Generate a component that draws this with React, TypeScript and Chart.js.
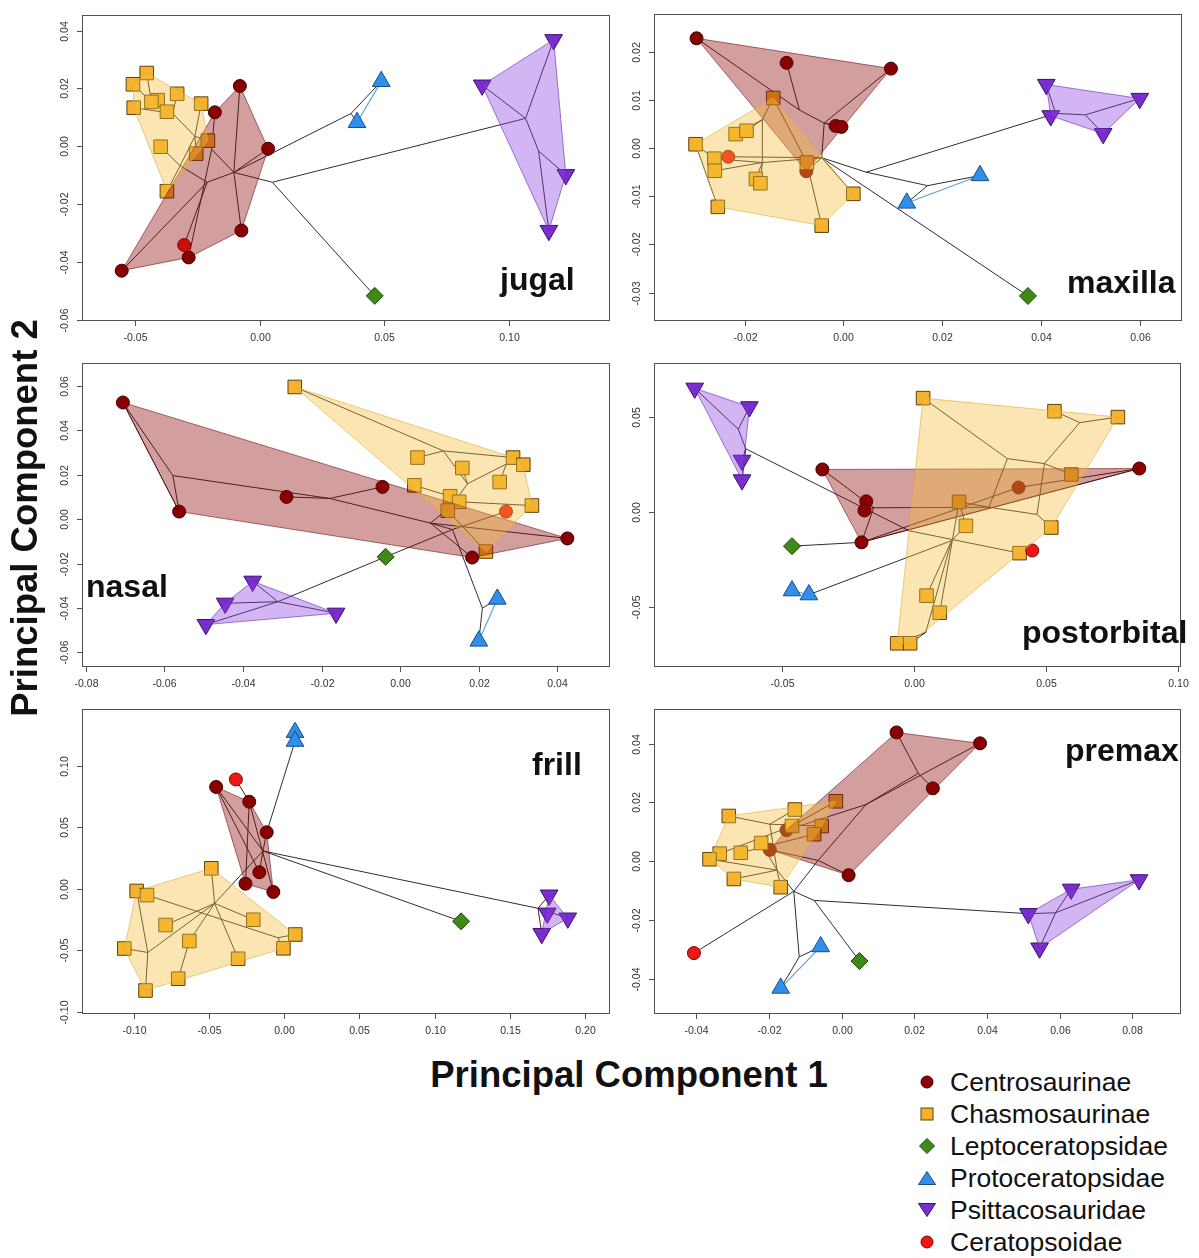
import React, { useEffect, useRef } from "react";
import { Chart, registerables } from "chart.js";

Chart.register(...registerables);

type Pt = [number, number];
type Edge = [number, number, number, number];

// ---------------- legend / groups ----------------
const groupNames = [
  "Centrosaurinae",
  "Chasmosaurinae",
  "Leptoceratopsidae",
  "Protoceratopsidae",
  "Psittacosauridae",
  "Ceratopsoidae",
];

// ---------------- jugal ----------------
const jugalXRange = [-0.0711, 0.1402];
const jugalYRange = [-0.0605, 0.0453];
const jugalXTicks = [-0.05, 0, 0.05, 0.1];
const jugalYTicks = [-0.06, -0.04, -0.02, 0, 0.02, 0.04];
const jugalCentro: Pt[] = [[-0.0079, 0.0208], [-0.0179, 0.0117], [0.0034, -0.0009], [-0.0073, -0.0292], [-0.0284, -0.0385], [-0.0552, -0.0431]];
const jugalChasmo: Pt[] = [[-0.0452, 0.0253], [-0.0507, 0.0214], [-0.0504, 0.0133], [-0.0408, 0.0159], [-0.0433, 0.0153], [-0.033, 0.0181], [-0.0371, 0.0119], [-0.0234, 0.0147], [-0.0396, -0.0002], [-0.0254, -0.0026], [-0.0207, 0.0019], [-0.0371, -0.0156]];
const jugalLepto: Pt[] = [[0.0461, -0.0518]];
const jugalProto: Pt[] = [[0.0487, 0.0224], [0.039, 0.0082]];
const jugalPsitt: Pt[] = [[0.1177, 0.0368], [0.0891, 0.0211], [0.1226, -0.0099], [0.1158, -0.0292]];
const jugalCerat: Pt[] = [[-0.0302, -0.0342]];
const jugalEdges: Edge[] = [
  [0.0051, -0.0125, 0.1065, 0.0096], [0.1065, 0.0096, 0.0891, 0.0211], [0.1065, 0.0096, 0.1177, 0.0368],
  [0.1065, 0.0096, 0.1117, -0.0017], [0.1117, -0.0017, 0.1226, -0.0099], [0.1117, -0.0017, 0.1158, -0.0292],
  [0.0051, -0.0125, 0.0461, -0.0518], [-0.0103, -0.0091, 0.0051, -0.0125], [-0.0103, -0.0091, 0.0366, 0.0113],
  [0.0366, 0.0113, 0.0487, 0.0224], [0.0366, 0.0113, 0.039, 0.0082], [-0.0103, -0.0091, 0.0034, -0.0009],
  [-0.0103, -0.0091, -0.0073, -0.0292], [-0.0103, -0.0091, -0.0079, 0.0208], [-0.0103, -0.0091, -0.021, -0.0125],
  [-0.021, -0.0125, -0.0552, -0.0431], [-0.021, -0.0125, -0.0302, -0.0342], [-0.0103, -0.0091, -0.0192, -0.0011],
  [-0.0192, -0.0011, -0.0179, 0.0117], [-0.0192, -0.0011, -0.0284, -0.0385], [-0.021, -0.0125, -0.0318, -0.0068],
  [-0.0318, -0.0068, -0.0371, -0.0156], [-0.0318, -0.0068, -0.0396, -0.0002], [-0.0318, -0.0068, -0.0259, 0.0034],
  [-0.0259, 0.0034, -0.0207, 0.0019], [-0.0259, 0.0034, -0.0254, -0.0026], [-0.0259, 0.0034, -0.0234, 0.0147],
  [-0.0259, 0.0034, -0.0348, 0.0113], [-0.0348, 0.0113, -0.0371, 0.0119], [-0.0348, 0.0113, -0.033, 0.0181],
  [-0.0348, 0.0113, -0.0408, 0.0159], [-0.0348, 0.0113, -0.0433, 0.0153], [-0.0433, 0.0153, -0.0452, 0.0253],
  [-0.0433, 0.0153, -0.0507, 0.0214], [-0.0348, 0.0113, -0.0504, 0.0133],
];

// ---------------- maxilla ----------------
const maxXRange = [-0.0383, 0.0684];
const maxYRange = [-0.0359, 0.0278];
const maxXTicks = [-0.02, 0, 0.02, 0.04, 0.06];
const maxYTicks = [-0.03, -0.02, -0.01, 0, 0.01, 0.02];
const maxCentro: Pt[] = [[-0.0297, 0.0228], [-0.0115, 0.0177], [0.0096, 0.0165], [-0.0016, 0.0046], [-0.0004, 0.0044], [-0.0075, -0.0048]];
const maxChasmo: Pt[] = [[-0.0142, 0.0104], [-0.0299, 0.0008], [-0.0218, 0.0029], [-0.0196, 0.0036], [-0.0261, -0.0022], [-0.026, -0.0047], [-0.0177, -0.0064], [-0.0168, -0.0073], [-0.0254, -0.0122], [-0.0074, -0.003], [0.002, -0.0095], [-0.0044, -0.0161]];
const maxLepto: Pt[] = [[0.0373, -0.0307]];
const maxProto: Pt[] = [[0.0276, -0.0057], [0.0128, -0.0114]];
const maxPsitt: Pt[] = [[0.041, 0.0132], [0.0599, 0.0103], [0.0419, 0.0067], [0.0525, 0.003]];
const maxCerat: Pt[] = [[-0.0233, -0.0018]];
const maxEdges: Edge[] = [
  [-0.0044, -0.002, 0.0046, -0.005], [0.0046, -0.005, 0.0429, 0.0072], [0.0429, 0.0072, 0.041, 0.0132],
  [0.0429, 0.0072, 0.0419, 0.0067], [0.0429, 0.0072, 0.0489, 0.0069], [0.0489, 0.0069, 0.0599, 0.0103],
  [0.0489, 0.0069, 0.0525, 0.003], [0.0046, -0.005, 0.017, -0.0078], [0.017, -0.0078, 0.0276, -0.0057],
  [0.017, -0.0078, 0.0128, -0.0114], [-0.0044, -0.002, 0.0373, -0.0307], [-0.0044, -0.002, -0.0039, 0.0052],
  [-0.0039, 0.0052, -0.0016, 0.0046], [-0.0039, 0.0052, -0.0004, 0.0044], [-0.0039, 0.0052, 0.0096, 0.0165],
  [-0.0039, 0.0052, -0.0089, 0.0079], [-0.0089, 0.0079, -0.0297, 0.0228], [-0.0089, 0.0079, -0.0115, 0.0177],
  [-0.0044, -0.002, -0.0075, -0.0048], [-0.0044, -0.002, -0.0233, -0.0018], [-0.0044, -0.002, -0.0164, -0.003],
  [-0.0164, -0.003, -0.0261, -0.0022], [-0.0164, -0.003, -0.026, -0.0047], [-0.0164, -0.003, -0.0177, -0.0064],
  [-0.0164, -0.003, -0.0168, -0.0073], [-0.0164, -0.003, -0.0164, 0.0059], [-0.0164, 0.0059, -0.0218, 0.0029],
  [-0.0164, 0.0059, -0.0196, 0.0036], [-0.0164, 0.0059, -0.0142, 0.0104], [-0.0142, 0.0104, -0.0074, -0.003],
  [-0.0074, -0.003, -0.0044, -0.0161], [-0.0299, 0.0008, -0.0261, -0.0022], [-0.0299, 0.0008, -0.0254, -0.0122],
  [-0.0044, -0.002, 0.002, -0.0095],
];

// ---------------- nasal ----------------
const nasXRange = [-0.0809, 0.0533];
const nasYRange = [-0.0666, 0.0702];
const nasXTicks = [-0.08, -0.06, -0.04, -0.02, 0, 0.02, 0.04];
const nasYTicks = [-0.06, -0.04, -0.02, 0, 0.02, 0.04, 0.06];
const nasCentro: Pt[] = [[-0.0705, 0.0525], [-0.0562, 0.0034], [-0.0289, 0.01], [-0.0045, 0.0145], [0.0183, -0.0173], [0.0425, -0.0087]];
const nasChasmo: Pt[] = [[-0.0268, 0.0595], [0.0044, 0.0277], [0.0287, 0.0277], [0.0313, 0.0245], [0.0158, 0.023], [0.0036, 0.0152], [0.0253, 0.0167], [0.0127, 0.0103], [0.015, 0.0078], [0.0335, 0.0061], [0.0121, 0.0038], [0.0218, -0.0146]];
const nasLepto: Pt[] = [[-0.0037, -0.017]];
const nasProto: Pt[] = [[0.0247, -0.036], [0.02, -0.0549]];
const nasPsitt: Pt[] = [[-0.0375, -0.028], [-0.0445, -0.0379], [-0.0163, -0.0424], [-0.0494, -0.0475]];
const nasCerat: Pt[] = [[0.0269, 0.0034]];
const nasEdges: Edge[] = [
  [-0.0705, 0.0525, -0.0578, 0.0196], [-0.0705, 0.0525, -0.0562, 0.0034], [-0.0578, 0.0196, -0.0562, 0.0034],
  [-0.0578, 0.0196, -0.0179, 0.0093], [-0.0179, 0.0093, -0.0289, 0.01], [-0.0179, 0.0093, -0.0045, 0.0145],
  [-0.0179, 0.0093, 0.0077, -0.0018], [0.0077, -0.0018, 0.0425, -0.0087], [0.0077, -0.0018, 0.0183, -0.0173],
  [0.0077, -0.0018, 0.0133, 0.0063], [0.0133, 0.0063, 0.0127, 0.0103], [0.0133, 0.0063, 0.0121, 0.0038],
  [0.0133, 0.0063, 0.015, 0.0078], [0.015, 0.0078, 0.0335, 0.0061], [0.0133, 0.0063, 0.0171, 0.0159],
  [0.0171, 0.0159, 0.0158, 0.023], [0.0171, 0.0159, 0.011, 0.0307], [0.011, 0.0307, -0.0268, 0.0595],
  [0.011, 0.0307, 0.0044, 0.0277], [0.011, 0.0307, 0.0287, 0.0277], [0.0171, 0.0159, 0.027, 0.0248],
  [0.027, 0.0248, 0.0313, 0.0245], [0.027, 0.0248, 0.0253, 0.0167], [0.0036, 0.0152, 0.0127, 0.0103],
  [0.0121, 0.0038, 0.0218, -0.0146], [0.0077, -0.0018, 0.0133, -0.0047], [-0.0037, -0.017, 0.0133, -0.0047],
  [0.0133, -0.0047, 0.0269, 0.0034], [0.0133, -0.0047, 0.0209, -0.0401], [0.0209, -0.0401, 0.0247, -0.036],
  [0.0209, -0.0401, 0.02, -0.0549], [-0.0311, -0.0372, -0.0037, -0.017], [-0.0311, -0.0372, -0.0375, -0.028],
  [-0.0311, -0.0372, -0.0445, -0.0379], [-0.0311, -0.0372, -0.0494, -0.0475], [-0.0311, -0.0372, -0.0163, -0.0424],
];

// ---------------- postorbital ----------------
const poXRange = [-0.0983, 0.101];
const poYRange = [-0.0818, 0.0783];
const poXTicks = [-0.05, 0, 0.05, 0.1];
const poYTicks = [-0.05, 0, 0.05];
const poCentro: Pt[] = [[-0.0346, 0.0223], [-0.018, 0.0055], [-0.0187, 0.0007], [-0.0198, -0.0161], [0.0853, 0.0228], [0.0396, 0.0128]];
const poChasmo: Pt[] = [[0.0035, 0.0599], [0.0532, 0.053], [0.0772, 0.0499], [0.0596, 0.0197], [0.0171, 0.0052], [0.0197, -0.0074], [0.052, -0.0083], [0.04, -0.0218], [0.0048, -0.0442], [0.0098, -0.0532], [-0.0063, -0.0693], [-0.0014, -0.0693]];
const poLepto: Pt[] = [[-0.0461, -0.0181]];
const poProto: Pt[] = [[-0.0461, -0.0416], [-0.0397, -0.0437]];
const poPsitt: Pt[] = [[-0.0829, 0.0651], [-0.0622, 0.0553], [-0.065, 0.0271], [-0.065, 0.0168]];
const poCerat: Pt[] = [[0.0448, -0.0204]];
const poEdges: Edge[] = [
  [-0.0829, 0.0651, -0.0664, 0.0435], [-0.0664, 0.0435, -0.0622, 0.0553], [-0.0664, 0.0435, -0.0636, 0.0332],
  [-0.0636, 0.0332, -0.065, 0.0271], [-0.0636, 0.0332, -0.065, 0.0168], [-0.0636, 0.0332, -0.0018, -0.01],
  [-0.0018, -0.01, 0.04, -0.0218], [-0.0346, 0.0223, -0.0152, 0.0021], [-0.0152, 0.0021, -0.018, 0.0055],
  [-0.0152, 0.0021, -0.0187, 0.0007], [-0.0152, 0.0021, -0.0198, -0.0161], [-0.0152, 0.0021, 0.0284, 0.0024],
  [-0.0461, -0.0181, -0.0198, -0.0161], [-0.0198, -0.0161, 0.0853, 0.0228], [-0.0198, -0.0161, 0.0396, 0.0128],
  [0.0396, 0.0128, 0.0853, 0.0228], [-0.0397, -0.0437, 0.0143, -0.0152], [0.0035, 0.0599, 0.0354, 0.028],
  [0.0354, 0.028, 0.0494, 0.0254], [0.0494, 0.0254, 0.0628, 0.047], [0.0628, 0.047, 0.0532, 0.053],
  [0.0628, 0.047, 0.0772, 0.0499], [0.0494, 0.0254, 0.0596, 0.0197], [0.0354, 0.028, 0.0284, 0.0024],
  [0.0284, 0.0024, 0.0171, 0.0052], [0.0284, 0.0024, 0.0466, -0.0014], [0.0466, -0.0014, 0.052, -0.0083],
  [0.0466, -0.0014, 0.0494, 0.0254], [0.0171, 0.0052, 0.0197, -0.0074], [0.0197, -0.0074, 0.0143, -0.0152],
  [0.0143, -0.0152, 0.0048, -0.0442], [0.0143, -0.0152, 0.0045, -0.0636], [0.0045, -0.0636, -0.0063, -0.0693],
  [0.0045, -0.0636, -0.0014, -0.0693], [0.0098, -0.0532, 0.0171, 0.0052],
];

// ---------------- frill ----------------
const frXRange = [-0.1343, 0.2163];
const frYRange = [-0.1019, 0.1458];
const frXTicks = [-0.1, -0.05, 0, 0.05, 0.1, 0.15, 0.2];
const frYTicks = [-0.1, -0.05, 0, 0.05, 0.1];
const frCentro: Pt[] = [[-0.0452, 0.0826], [-0.0232, 0.0706], [-0.0116, 0.0458], [-0.0165, 0.0133], [-0.0257, 0.004], [-0.0072, -0.0027]];
const frChasmo: Pt[] = [[-0.0484, 0.0165], [-0.098, -0.0019], [-0.0911, -0.0053], [-0.0788, -0.0296], [-0.0205, -0.0253], [0.0074, -0.0373], [-0.063, -0.0426], [-0.1062, -0.0487], [-0.0005, -0.0485], [-0.0306, -0.057], [-0.0704, -0.0732], [-0.0921, -0.0828]];
const frLepto: Pt[] = [[0.1175, -0.0266]];
const frProto: Pt[] = [[0.0072, 0.127], [0.0072, 0.1198]];
const frPsitt: Pt[] = [[0.176, -0.0053], [0.1748, -0.02], [0.1884, -0.024], [0.1711, -0.0365]];
const frCerat: Pt[] = [[-0.0321, 0.0887]];
const frEdges: Edge[] = [
  [-0.0141, 0.0306, 0.1686, -0.016], [0.1686, -0.016, 0.176, -0.0053], [0.1686, -0.016, 0.1748, -0.02],
  [0.1686, -0.016, 0.1884, -0.024], [0.1686, -0.016, 0.1711, -0.0365], [-0.0141, 0.0306, 0.1175, -0.0266],
  [-0.0116, 0.0458, 0.0072, 0.1198], [-0.0141, 0.0306, -0.0116, 0.0458], [-0.0452, 0.0826, -0.0141, 0.0306],
  [-0.0452, 0.0826, -0.0165, 0.0133], [-0.0232, 0.0706, -0.0257, 0.004], [-0.0232, 0.0706, -0.0072, -0.0027],
  [-0.0321, 0.0887, -0.0232, 0.0706], [-0.0141, 0.0306, -0.0165, 0.0133], [-0.0141, 0.0306, -0.0462, -0.012],
  [-0.0462, -0.012, -0.0484, 0.0165], [-0.0462, -0.012, -0.0205, -0.0253], [-0.0462, -0.012, -0.0788, -0.0296],
  [-0.0462, -0.012, -0.063, -0.0426], [-0.063, -0.0426, -0.0704, -0.0732], [-0.0462, -0.012, -0.0306, -0.057],
  [-0.0911, -0.0053, -0.0042, -0.0399], [-0.0042, -0.0399, 0.0074, -0.0373], [-0.0042, -0.0399, -0.0005, -0.0485],
  [-0.0462, -0.012, -0.0906, -0.0519], [-0.0906, -0.0519, -0.098, -0.0019], [-0.0906, -0.0519, -0.1062, -0.0487],
  [-0.0906, -0.0519, -0.0921, -0.0828],
];

// ---------------- premax ----------------
const pmXRange = [-0.0517, 0.0934];
const pmYRange = [-0.0519, 0.0517];
const pmXTicks = [-0.04, -0.02, 0, 0.02, 0.04, 0.06, 0.08];
const pmYTicks = [-0.04, -0.02, 0, 0.02, 0.04];
const pmCentro: Pt[] = [[0.0151, 0.0438], [0.0381, 0.0401], [0.0251, 0.0248], [0.0019, -0.0047], [-0.0152, 0.0106], [-0.0198, 0.0039]];
const pmChasmo: Pt[] = [[-0.0311, 0.0154], [-0.0129, 0.0176], [-0.0016, 0.0204], [-0.0137, 0.012], [-0.0055, 0.012], [-0.0076, 0.0092], [-0.0222, 0.0062], [-0.0336, 0.0026], [-0.0278, 0.0029], [-0.0364, 0.0007], [-0.0297, -0.006], [-0.0168, -0.0088]];
const pmLepto: Pt[] = [[0.0049, -0.0339]];
const pmProto: Pt[] = [[-0.0058, -0.029], [-0.0168, -0.0431]];
const pmPsitt: Pt[] = [[0.0514, -0.0178], [0.0632, -0.0095], [0.0819, -0.0063], [0.0545, -0.0295]];
const pmCerat: Pt[] = [[-0.0407, -0.0312]];
const pmEdges: Edge[] = [
  [-0.0132, -0.0102, -0.0407, -0.0312], [-0.0132, -0.0102, -0.0076, -0.0133], [-0.0076, -0.0133, 0.0514, -0.0178],
  [-0.0076, -0.0133, 0.0049, -0.0339], [-0.0132, -0.0102, -0.0117, -0.0325], [-0.0117, -0.0325, -0.0058, -0.029],
  [-0.0117, -0.0325, -0.0168, -0.0431], [0.0514, -0.0178, 0.0589, -0.0175], [0.0589, -0.0175, 0.0632, -0.0095],
  [0.0589, -0.0175, 0.0819, -0.0063], [0.0589, -0.0175, 0.0545, -0.0295], [-0.0132, -0.0102, -0.0065, 0.0003],
  [-0.0065, 0.0003, 0.0019, -0.0047], [-0.0065, 0.0003, -0.0198, 0.0039], [-0.0065, 0.0003, 0.0067, 0.0193],
  [0.0067, 0.0193, 0.0211, 0.0299], [0.0211, 0.0299, 0.0151, 0.0438], [0.0211, 0.0299, 0.0251, 0.0248],
  [0.0067, 0.0193, 0.0381, 0.0401], [-0.0152, 0.0106, 0.0067, 0.0193], [-0.0132, -0.0102, -0.0178, -0.003],
  [-0.0178, -0.003, -0.0297, -0.006], [-0.0178, -0.003, -0.0168, -0.0088], [-0.0178, -0.003, -0.0222, 0.0062],
  [-0.0178, -0.003, -0.0364, 0.0007], [-0.0178, -0.003, -0.0198, 0.0126], [-0.0198, 0.0126, -0.0311, 0.0154],
  [-0.0198, 0.0126, -0.0129, 0.0176], [-0.0137, 0.012, -0.0016, 0.0204], [-0.0336, 0.0026, -0.0137, 0.012],
  [-0.0278, 0.0029, -0.0076, 0.0092], [-0.0055, 0.012, -0.0198, 0.0126],
];

// ---------------- styles ----------------
const STY = {
  centro: { shape: "circle", r: 6.5, rot: 0, fill: "#8B0000", stroke: "#3a0000" },
  chasmo: { shape: "rect", r: 9.6, rot: 0, fill: "#F6B22C", stroke: "#5a4312" },
  lepto: { shape: "rectRot", r: 8.5, rot: 0, fill: "#3F8A16", stroke: "#1f4a0a" },
  proto: { shape: "triangle", r: 10.2, rot: 0, fill: "#2F8FEA", stroke: "#1a4d88" },
  psitt: { shape: "triangle", r: 10.2, rot: 180, fill: "#7A2DD0", stroke: "#3b1068" },
  cerat: { shape: "circle", r: 6.5, rot: 0, fill: "#F01616", stroke: "#8a0000" },
};
const HULL = {
  centro: { fill: "rgba(139,0,0,0.38)", stroke: "rgba(105,0,0,0.55)" },
  chasmo: { fill: "rgba(245,188,55,0.38)", stroke: "rgba(225,170,55,0.6)" },
  psitt: { fill: "rgba(140,60,225,0.38)", stroke: "rgba(100,40,180,0.6)" },
};
const PAD = { l: 48, t: 6, r: 6, b: 30 };

interface PanelSpec {
  name: string;
  box: number[];
  labelPos: number[];
  xRange: number[];
  yRange: number[];
  xTicks: number[];
  yTicks: number[];
  centro: Pt[];
  chasmo: Pt[];
  lepto: Pt[];
  proto: Pt[];
  psitt: Pt[];
  cerat: Pt[];
  edges: Edge[];
}

const panels: PanelSpec[] = [
  { name: "jugal", box: [82, 10, 615, 321], labelPos: [500, 263], xRange: jugalXRange, yRange: jugalYRange, xTicks: jugalXTicks, yTicks: jugalYTicks, centro: jugalCentro, chasmo: jugalChasmo, lepto: jugalLepto, proto: jugalProto, psitt: jugalPsitt, cerat: jugalCerat, edges: jugalEdges },
  { name: "maxilla", box: [654, 9, 1187, 321], labelPos: [1067, 266], xRange: maxXRange, yRange: maxYRange, xTicks: maxXTicks, yTicks: maxYTicks, centro: maxCentro, chasmo: maxChasmo, lepto: maxLepto, proto: maxProto, psitt: maxPsitt, cerat: maxCerat, edges: maxEdges },
  { name: "nasal", box: [82, 358, 615, 667], labelPos: [86, 570], xRange: nasXRange, yRange: nasYRange, xTicks: nasXTicks, yTicks: nasYTicks, centro: nasCentro, chasmo: nasChasmo, lepto: nasLepto, proto: nasProto, psitt: nasPsitt, cerat: nasCerat, edges: nasEdges },
  { name: "postorbital", box: [654, 358, 1186, 667], labelPos: [1022, 616], xRange: poXRange, yRange: poYRange, xTicks: poXTicks, yTicks: poYTicks, centro: poCentro, chasmo: poChasmo, lepto: poLepto, proto: poProto, psitt: poPsitt, cerat: poCerat, edges: poEdges },
  { name: "frill", box: [82, 704, 615, 1014], labelPos: [532, 748], xRange: frXRange, yRange: frYRange, xTicks: frXTicks, yTicks: frYTicks, centro: frCentro, chasmo: frChasmo, lepto: frLepto, proto: frProto, psitt: frPsitt, cerat: frCerat, edges: frEdges },
  { name: "premax", box: [654, 704, 1186, 1014], labelPos: [1065, 734], xRange: pmXRange, yRange: pmYRange, xTicks: pmXTicks, yTicks: pmYTicks, centro: pmCentro, chasmo: pmChasmo, lepto: pmLepto, proto: pmProto, psitt: pmPsitt, cerat: pmCerat, edges: pmEdges },
];

function convexHull(pts: Pt[]): Pt[] {
  const s = [...pts].sort((a, b) => a[0] - b[0] || a[1] - b[1]);
  const cross = (o: Pt, a: Pt, b: Pt) => (a[0] - o[0]) * (b[1] - o[1]) - (a[1] - o[1]) * (b[0] - o[0]);
  const lower: Pt[] = [];
  for (const p of s) {
    while (lower.length >= 2 && cross(lower[lower.length - 2], lower[lower.length - 1], p) <= 0) lower.pop();
    lower.push(p);
  }
  const upper: Pt[] = [];
  for (let i = s.length - 1; i >= 0; i--) {
    const p = s[i];
    while (upper.length >= 2 && cross(upper[upper.length - 2], upper[upper.length - 1], p) <= 0) upper.pop();
    upper.push(p);
  }
  upper.pop();
  lower.pop();
  return lower.concat(upper);
}

const toXY = (pts: Pt[]) => pts.map((p) => ({ x: p[0], y: p[1] }));

function buildDatasets(p: PanelSpec) {
  const ds: any[] = [];
  for (const e of p.edges) {
    ds.push({
      data: [{ x: e[0], y: e[1] }, { x: e[2], y: e[3] }],
      showLine: true, borderColor: "#2e2e2e", borderWidth: 1, pointRadius: 0, order: 3,
    });
  }
  ds.push({ data: toXY(p.proto), showLine: true, borderColor: "#5aa2e0", borderWidth: 1.2, pointRadius: 0, order: 3 });
  const keys: (keyof typeof STY)[] = ["cerat", "lepto", "proto", "psitt", "chasmo", "centro"];
  for (const k of keys) {
    const st = STY[k];
    ds.push({
      data: toXY((p as any)[k]),
      pointStyle: st.shape, pointRadius: st.r, pointRotation: st.rot,
      pointBackgroundColor: st.fill, pointBorderColor: st.stroke, pointBorderWidth: 1,
      showLine: false, order: 2,
    });
  }
  const hk: (keyof typeof HULL)[] = ["psitt", "chasmo", "centro"];
  for (const k of hk) {
    const h = convexHull((p as any)[k]);
    const closed = [...h, h[0]];
    ds.push({
      data: toXY(closed), showLine: true, fill: "shape", tension: 0,
      backgroundColor: HULL[k].fill, borderColor: HULL[k].stroke, borderWidth: 1, pointRadius: 0, order: 1,
    });
  }
  return ds;
}

const axisPlugin = {
  id: "rAxes",
  afterDraw(chart: any, _args: any, opts: any) {
    const { ctx, chartArea } = chart;
    const { left, right, top, bottom } = chartArea;
    const xs = chart.scales.x;
    const ys = chart.scales.y;
    ctx.save();
    ctx.strokeStyle = "#505050";
    ctx.lineWidth = 1;
    ctx.strokeRect(Math.round(left) + 0.5, Math.round(top) + 0.5, Math.round(right - left) - 1, Math.round(bottom - top) - 1);
    ctx.fillStyle = "#333";
    ctx.font = "10.5px 'Liberation Sans', Arial, sans-serif";
    ctx.textAlign = "center";
    ctx.textBaseline = "middle";
    for (const v of opts.xTicks as number[]) {
      const px = Math.round(xs.getPixelForValue(v)) + 0.5;
      ctx.beginPath();
      ctx.moveTo(px, bottom);
      ctx.lineTo(px, bottom + 5);
      ctx.stroke();
      ctx.fillText(v.toFixed(2), px, bottom + 17);
    }
    for (const v of opts.yTicks as number[]) {
      const py = Math.round(ys.getPixelForValue(v)) + 0.5;
      ctx.beginPath();
      ctx.moveTo(left, py);
      ctx.lineTo(left - 5, py);
      ctx.stroke();
      ctx.save();
      ctx.translate(left - 17, py);
      ctx.rotate(-Math.PI / 2);
      ctx.fillText(v.toFixed(2), 0, 0);
      ctx.restore();
    }
    ctx.restore();
  },
};

function Panel({ spec }: { spec: PanelSpec }) {
  const ref = useRef<HTMLCanvasElement>(null);
  const [l, t, r, b] = spec.box;
  const w = r - l + PAD.l + PAD.r;
  const h = b - t + PAD.t + PAD.b;
  useEffect(() => {
    const chart = new Chart(ref.current as HTMLCanvasElement, {
      type: "scatter",
      data: { datasets: buildDatasets(spec) },
      options: {
        responsive: false,
        animation: false,
        devicePixelRatio: 1,
        events: [],
        layout: { padding: { left: PAD.l, top: PAD.t, right: PAD.r, bottom: PAD.b } },
        scales: {
          x: { type: "linear", display: false, min: spec.xRange[0], max: spec.xRange[1] },
          y: { type: "linear", display: false, min: spec.yRange[0], max: spec.yRange[1] },
        },
        plugins: {
          legend: { display: false },
          tooltip: { enabled: false },
          rAxes: { xTicks: spec.xTicks, yTicks: spec.yTicks },
        } as any,
      },
      plugins: [axisPlugin as any],
    });
    return () => chart.destroy();
  }, [spec]);
  return (
    <canvas
      ref={ref}
      width={w}
      height={h}
      style={{ position: "absolute", left: l - PAD.l, top: t - PAD.t, width: w, height: h }}
    />
  );
}

function LegendMarker({ i }: { i: number }) {
  const common = { strokeWidth: 1 };
  let el: any = null;
  if (i === 0) el = <circle cx={10} cy={10} r={6} fill={STY.centro.fill} stroke={STY.centro.stroke} {...common} />;
  if (i === 1) el = <rect x={4} y={4} width={12} height={12} fill={STY.chasmo.fill} stroke={STY.chasmo.stroke} {...common} />;
  if (i === 2) el = <polygon points="10,2.5 17.5,10 10,17.5 2.5,10" fill={STY.lepto.fill} stroke={STY.lepto.stroke} {...common} />;
  if (i === 3) el = <polygon points="10,3.5 18.5,16.5 1.5,16.5" fill={STY.proto.fill} stroke={STY.proto.stroke} {...common} />;
  if (i === 4) el = <polygon points="1.5,3.5 18.5,3.5 10,16.5" fill={STY.psitt.fill} stroke={STY.psitt.stroke} {...common} />;
  if (i === 5) el = <circle cx={10} cy={10} r={6} fill={STY.cerat.fill} stroke={STY.cerat.stroke} {...common} />;
  return (
    <svg width={20} height={20} style={{ display: "block" }}>
      {el}
    </svg>
  );
}

const legendRowCenters = [1082, 1114, 1146, 1178, 1210, 1242];

export default function App() {
  const font = "'Liberation Sans', Arial, Helvetica, sans-serif";
  return (
    <div style={{ position: "absolute", left: 0, top: 0, width: 1199, height: 1258, background: "#fff", overflow: "hidden", fontFamily: font }}>
      {panels.map((p) => (
        <Panel key={p.name} spec={p} />
      ))}
      {panels.map((p) => (
        <div
          key={p.name + "-label"}
          style={{ position: "absolute", left: p.labelPos[0], top: p.labelPos[1], font: `bold 32px ${font}`, lineHeight: "32px", color: "#111", whiteSpace: "nowrap" }}
        >
          {p.name}
        </div>
      ))}
      <div
        style={{ position: "absolute", left: 629 - 260, top: 1055, width: 520, textAlign: "center", font: `bold 36.5px ${font}`, lineHeight: "40px", color: "#111", whiteSpace: "nowrap" }}
      >
        Principal Component 1
      </div>
      <div
        style={{ position: "absolute", left: 25 - 260, top: 518 - 20, width: 520, height: 40, textAlign: "center", font: `bold 36.5px ${font}`, lineHeight: "40px", color: "#111", whiteSpace: "nowrap", transform: "rotate(-90deg)", transformOrigin: "50% 50%" }}
      >
        Principal Component 2
      </div>
      {groupNames.map((g, i) => (
        <div
          key={g}
          style={{ position: "absolute", left: 917, top: legendRowCenters[i] - 15, height: 30, display: "flex", alignItems: "center", whiteSpace: "nowrap" }}
        >
          <LegendMarker i={i} />
          <span style={{ marginLeft: 13, font: `26.5px ${font}`, lineHeight: "30px", color: "#111" }}>{g}</span>
        </div>
      ))}
    </div>
  );
}
